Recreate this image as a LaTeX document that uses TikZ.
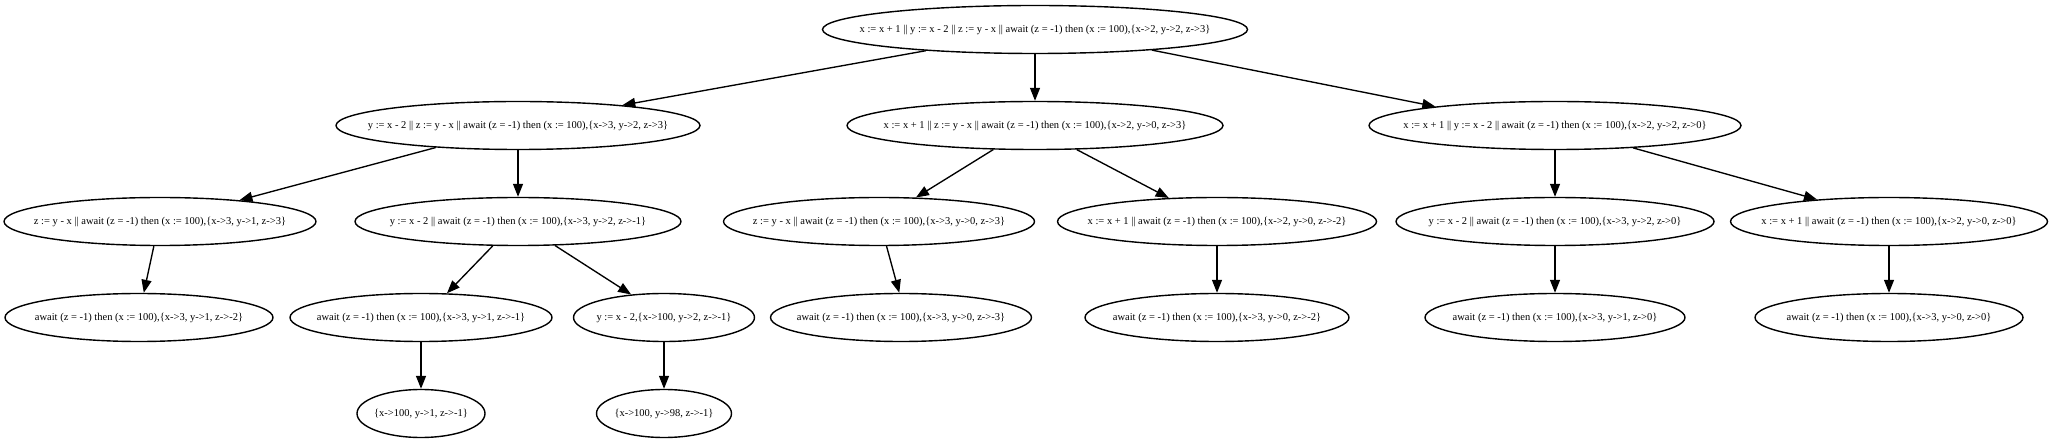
\documentclass[tikz,border=0pt]{standalone}
\usepackage{fontspec}
\setmainfont{Liberation Serif}
\usetikzlibrary{shapes.geometric,arrows.meta}
\tikzset{
  st/.style={ellipse, draw, line width=1.4pt, minimum height=48pt, inner sep=0pt,
    font=\fontsize{10.5}{12}\selectfont},
  edge/.style={-{Triangle[length=13pt,width=10pt]}, line width=1.35pt}
}
\newcommand{\lbl}[1]{\makebox[0pt]{#1}}
\begin{document}
\begin{tikzpicture}[x=1pt,y=-1pt]
\path[use as bounding box] (0,0) rectangle (2053,443);
% level 0
\node[st, minimum width=425pt] (root) at (1035,29.5) {\lbl{x := x + 1 || y := x - 2 || z := y - x || await (z = -1) then (x := 100),\{x->2, y->2, z->3\}}};
% level 1
\node[st, minimum width=364pt] (A) at (518,125.5) {\lbl{y := x - 2 || z := y - x || await (z = -1) then (x := 100),\{x->3, y->2, z->3\}}};
\node[st, minimum width=376pt] (B) at (1035,125.5) {\lbl{x := x + 1 || z := y - x || await (z = -1) then (x := 100),\{x->2, y->0, z->3\}}};
\node[st, minimum width=372pt] (C) at (1555,125.5) {\lbl{x := x + 1 || y := x - 2 || await (z = -1) then (x := 100),\{x->2, y->2, z->0\}}};
% level 2
\node[st, minimum width=312pt] (n1) at (160,221.5) {\lbl{z := y - x || await (z = -1) then (x := 100),\{x->3, y->1, z->3\}}};
\node[st, minimum width=326pt] (n2) at (518,221.5) {\lbl{y := x - 2 || await (z = -1) then (x := 100),\{x->3, y->2, z->-1\}}};
\node[st, minimum width=311pt] (n3) at (879,221.5) {\lbl{z := y - x || await (z = -1) then (x := 100),\{x->3, y->0, z->3\}}};
\node[st, minimum width=319pt] (n4) at (1217,221.5) {\lbl{x := x + 1 || await (z = -1) then (x := 100),\{x->2, y->0, z->-2\}}};
\node[st, minimum width=318pt] (n5) at (1555,221.5) {\lbl{y := x - 2 || await (z = -1) then (x := 100),\{x->3, y->2, z->0\}}};
\node[st, minimum width=317pt] (n6) at (1889,221.5) {\lbl{x := x + 1 || await (z = -1) then (x := 100),\{x->2, y->0, z->0\}}};
% level 3
\node[st, minimum width=268pt] (m1) at (139,317.5) {\lbl{await (z = -1) then (x := 100),\{x->3, y->1, z->-2\}}};
\node[st, minimum width=262pt] (m2) at (421,317.5) {\lbl{await (z = -1) then (x := 100),\{x->3, y->1, z->-1\}}};
\node[st, minimum width=181pt] (m3) at (664,317.5) {\lbl{y := x - 2,\{x->100, y->2, z->-1\}}};
\node[st, minimum width=261pt] (m4) at (901,317.5) {\lbl{await (z = -1) then (x := 100),\{x->3, y->0, z->-3\}}};
\node[st, minimum width=264pt] (m5) at (1217,317.5) {\lbl{await (z = -1) then (x := 100),\{x->3, y->0, z->-2\}}};
\node[st, minimum width=260pt] (m6) at (1555,317.5) {\lbl{await (z = -1) then (x := 100),\{x->3, y->1, z->0\}}};
\node[st, minimum width=268pt] (m7) at (1889,317.5) {\lbl{await (z = -1) then (x := 100),\{x->3, y->0, z->0\}}};
% level 4
\node[st, minimum width=128pt] (k1) at (421,413.5) {\lbl{\{x->100, y->1, z->-1\}}};
\node[st, minimum width=135pt] (k2) at (664,413.5) {\lbl{\{x->100, y->98, z->-1\}}};
% edges
\draw[edge] (root.191) -- (A.11);
\draw[edge] (root.south) -- (B.north);
\draw[edge] (root.350) -- (C.171);
\draw[edge] (A.195) -- (n1.15);
\draw[edge] (A.south) -- (n2.north);
\draw[edge] (n1.256) -- (m1.79);
\draw[edge] (n2.224) -- (m2.43);
\draw[edge] (n2.327) -- (m3.145);
\draw[edge] (m2.south) -- (k1.north);
\draw[edge] (m3.south) -- (k2.north);
\draw[edge] (B.210) -- (n3.33);
\draw[edge] (B.330) -- (n4.154);
\draw[edge] (n3.287) -- (m4.94);
\draw[edge] (n4.south) -- (m5.north);
\draw[edge] (C.south) -- (n5.north);
\draw[edge] (C.344) -- (n6.163);
\draw[edge] (n5.south) -- (m6.north);
\draw[edge] (n6.south) -- (m7.north);
\end{tikzpicture}
\end{document}
